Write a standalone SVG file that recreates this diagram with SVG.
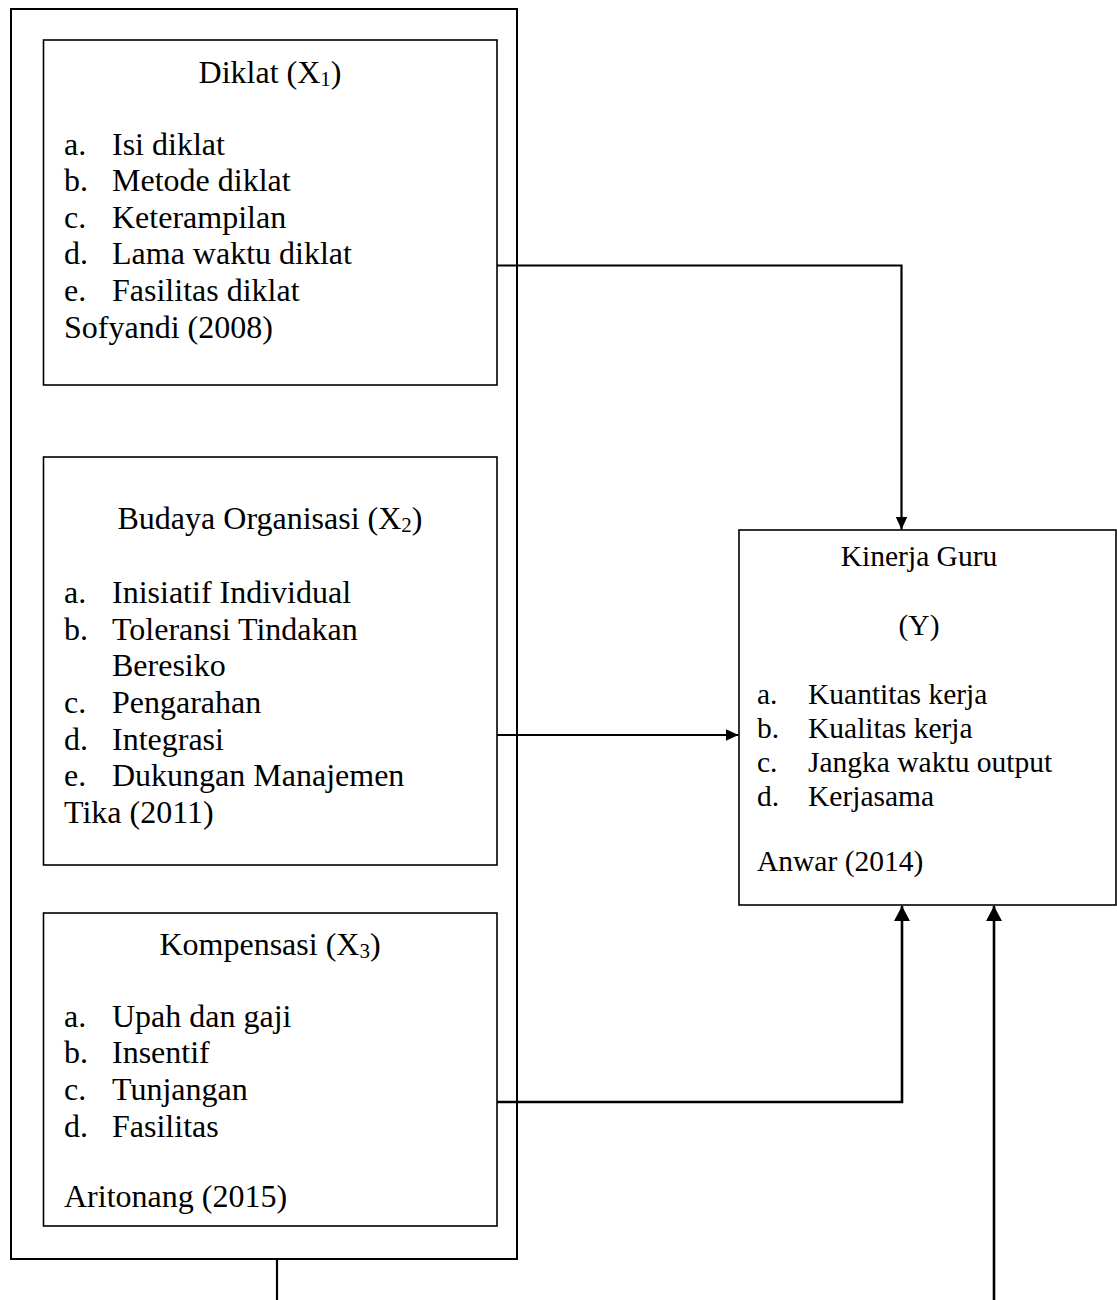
<svg xmlns="http://www.w3.org/2000/svg" width="1117" height="1300" viewBox="0 0 1117 1300">
<style>
  .box { fill: #ffffff; stroke: #000000; stroke-width: 1.6; }
  .outer { fill: none; stroke: #000000; stroke-width: 2; }
  .t { font-family: "Liberation Serif", "Times New Roman", serif; font-size: 32px; fill: #000000; }
  .k { font-family: "Liberation Serif", "Times New Roman", serif; font-size: 29.5px; fill: #000000; }
  .c { text-anchor: middle; }
  .sub { font-size: 21px; }
  .conn { fill: none; stroke: #000000; stroke-width: 2.2; }
  .conn2 { fill: none; stroke: #000000; stroke-width: 2.6; }
</style>
<defs>
  <marker id="arrow" markerUnits="userSpaceOnUse" markerWidth="13" markerHeight="12" viewBox="0 0 13 12" refX="13" refY="6" orient="auto">
    <path d="M0,0 L13,6 L0,12 Z" fill="#000000"/>
  </marker>
  <marker id="arrow-big" markerUnits="userSpaceOnUse" markerWidth="15" markerHeight="16" viewBox="0 0 15 16" refX="15" refY="8" orient="auto">
    <path d="M0,0 L15,8 L0,16 Z" fill="#000000"/>
  </marker>
</defs>
<rect width="1117" height="1300" fill="#ffffff"/>

<g id="outer-group">
  <rect class="outer" x="11" y="9" width="506" height="1250"/>
</g>

<g id="node-diklat">
  <rect class="box" x="43.5" y="40" width="453.5" height="345"/>
  <text class="t c" x="270" y="83">Diklat (X<tspan class="sub" dy="3">1</tspan><tspan dy="-3">)</tspan></text>
  <text class="t" x="64" y="155">a.</text><text class="t" x="112" y="155">Isi diklat</text>
  <text class="t" x="64" y="191">b.</text><text class="t" x="112" y="191">Metode diklat</text>
  <text class="t" x="64" y="228">c.</text><text class="t" x="112" y="228">Keterampilan</text>
  <text class="t" x="64" y="264">d.</text><text class="t" x="112" y="264">Lama waktu diklat</text>
  <text class="t" x="64" y="301">e.</text><text class="t" x="112" y="301">Fasilitas diklat</text>
  <text class="t" x="64" y="338">Sofyandi (2008)</text>
</g>

<g id="node-budaya">
  <rect class="box" x="43.5" y="457" width="453.5" height="408"/>
  <text class="t c" x="270" y="529">Budaya Organisasi (X<tspan class="sub" dy="3">2</tspan><tspan dy="-3">)</tspan></text>
  <text class="t" x="64" y="603">a.</text><text class="t" x="112" y="603">Inisiatif Individual</text>
  <text class="t" x="64" y="640">b.</text><text class="t" x="112" y="640">Toleransi Tindakan</text>
  <text class="t" x="112" y="676">Beresiko</text>
  <text class="t" x="64" y="713">c.</text><text class="t" x="112" y="713">Pengarahan</text>
  <text class="t" x="64" y="750">d.</text><text class="t" x="112" y="750">Integrasi</text>
  <text class="t" x="64" y="786">e.</text><text class="t" x="112" y="786">Dukungan Manajemen</text>
  <text class="t" x="64" y="823">Tika (2011)</text>
</g>

<g id="node-kompensasi">
  <rect class="box" x="43.5" y="913" width="453.5" height="313"/>
  <text class="t c" x="270" y="955">Kompensasi (X<tspan class="sub" dy="3">3</tspan><tspan dy="-3">)</tspan></text>
  <text class="t" x="64" y="1027">a.</text><text class="t" x="112" y="1027">Upah dan gaji</text>
  <text class="t" x="64" y="1063">b.</text><text class="t" x="112" y="1063">Insentif</text>
  <text class="t" x="64" y="1100">c.</text><text class="t" x="112" y="1100">Tunjangan</text>
  <text class="t" x="64" y="1137">d.</text><text class="t" x="112" y="1137">Fasilitas</text>
  <text class="t" x="64" y="1207">Aritonang (2015)</text>
</g>

<g id="node-kinerja">
  <rect class="box" x="739" y="530" width="377" height="375"/>
  <text class="k c" x="919" y="566">Kinerja Guru</text>
  <text class="k c" x="919" y="635">(Y)</text>
  <text class="k" x="757" y="704">a.</text><text class="k" x="808" y="704">Kuantitas kerja</text>
  <text class="k" x="757" y="738">b.</text><text class="k" x="808" y="738">Kualitas kerja</text>
  <text class="k" x="757" y="772">c.</text><text class="k" x="808" y="772">Jangka waktu output</text>
  <text class="k" x="757" y="806">d.</text><text class="k" x="808" y="806">Kerjasama</text>
  <text class="k" x="757" y="871">Anwar (2014)</text>
</g>

<g id="connectors">
  <path class="conn" d="M497,265.5 H901.5 V529.5" marker-end="url(#arrow)"/>
  <path class="conn" d="M497,735 H738.5" marker-end="url(#arrow)"/>
  <path class="conn2" d="M497,1102 H902 V906" marker-end="url(#arrow-big)"/>
  <path class="conn2" d="M994,1300 V906" marker-end="url(#arrow-big)"/>
  <path class="conn" d="M277,1259 V1300"/>
</g>
</svg>
